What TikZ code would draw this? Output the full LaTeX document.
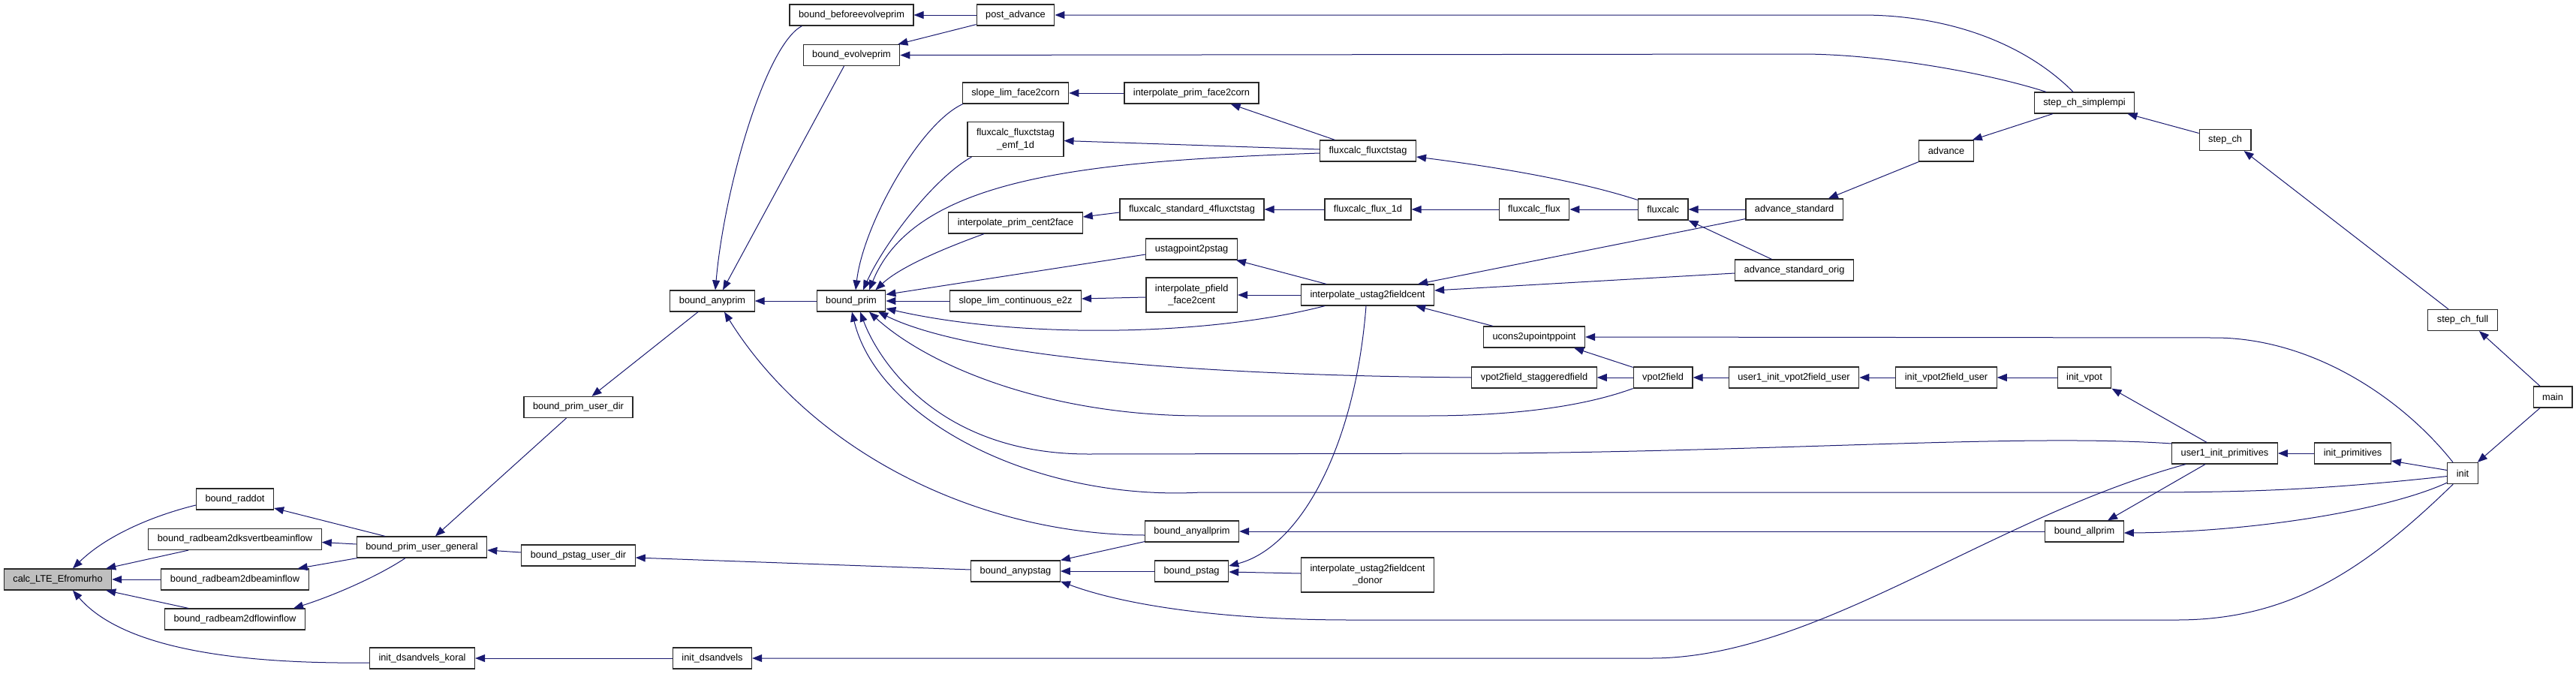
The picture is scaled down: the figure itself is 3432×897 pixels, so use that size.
\documentclass[tikz,border=0pt]{standalone}
\usepackage{fontspec}
\setmainfont{Liberation Sans}
\usetikzlibrary{arrows.meta}
\definecolor{edgecol}{RGB}{25,25,112}
\definecolor{rootfill}{RGB}{191,191,191}
\definecolor{boxline}{RGB}{40,40,40}
\newcommand{\gfont}{\fontsize{12.8}{16.7}\selectfont}
\tikzset{
  box/.style={draw=boxline, line width=1.2pt, fill=white, minimum height=28pt,
    inner xsep=12pt, inner ysep=0pt, font=\gfont, text=black, align=center},
  box2/.style={box, minimum height=46pt},
  e/.style={draw=edgecol, line width=1pt, -{Triangle[length=13pt,width=10pt]}}
}
\begin{document}
\begin{tikzpicture}[x=1pt,y=-1pt]
\useasboundingbox[fill=white] (0,0) rectangle (3432,897);
% nodes
\node[box, fill=rootfill] (calc) at (77,772) {calc\_LTE\_Efromurho};
\node[box] (raddot) at (313,665) {bound\_raddot};
\node[box] (ksvert) at (313,718.5) {bound\_radbeam2dksvertbeaminflow};
\node[box] (beamin) at (313,772) {bound\_radbeam2dbeaminflow};
\node[box] (flowin) at (313,825) {bound\_radbeam2dflowinflow};
\node[box] (bpug) at (562,729) {bound\_prim\_user\_general};
\node[box] (idk) at (562.5,877) {init\_dsandvels\_koral};
\node[box] (bpud) at (770.5,542.5) {bound\_prim\_user\_dir};
\node[box] (bpsud) at (770.5,740) {bound\_pstag\_user\_dir};
\node[box] (ids) at (949,877) {init\_dsandvels};
\node[box] (bbep) at (1134.5,20) {bound\_beforeevolveprim};
\node[box] (bep) at (1134.5,73.5) {bound\_evolveprim};
\node[box] (bap) at (949,401) {bound\_anyprim};
\node[box] (bp) at (1134,401) {bound\_prim};
\node[box] (pa) at (1353,20) {post\_advance};
\node[box] (slf) at (1353,124) {slope\_lim\_face2corn};
\node[box2] (fcemf) at (1353,185.5) {fluxcalc\_fluxctstag\\\_emf\_1d};
\node[box] (ipc) at (1353,297) {interpolate\_prim\_cent2face};
\node[box] (slc) at (1353,401) {slope\_lim\_continuous\_e2z};
\node[box] (bapstag) at (1353,761) {bound\_anypstag};
\node[box] (ipf) at (1587.5,124) {interpolate\_prim\_face2corn};
\node[box] (fs4) at (1588,279) {fluxcalc\_standard\_4fluxctstag};
\node[box] (usp) at (1587.6,332) {ustagpoint2pstag};
\node[box2] (ipfc) at (1587.7,393) {interpolate\_pfield\\\_face2cent};
\node[box] (baap) at (1588,708) {bound\_anyallprim};
\node[box] (bps) at (1587.6,761) {bound\_pstag};
\node[box] (fcs) at (1822.5,201) {fluxcalc\_fluxctstag};
\node[box] (ff1d) at (1822.5,279) {fluxcalc\_flux\_1d};
\node[box] (iu) at (1822,393) {interpolate\_ustag2fieldcent};
\node[box2] (iud) at (1822,766) {interpolate\_ustag2fieldcent\\\_donor};
\node[box] (ff) at (2044,279) {fluxcalc\_flux};
\node[box] (ucons) at (2044,449) {ucons2upointppoint};
\node[box] (vsf) at (2044,503) {vpot2field\_staggeredfield};
\node[box] (fc) at (2215.6,279) {fluxcalc};
\node[box] (vf) at (2215.6,503) {vpot2field};
\node[box] (as) at (2390.6,279) {advance\_standard};
\node[box] (aso) at (2390.5,360) {advance\_standard\_orig};
\node[box] (u1ivu) at (2390,503) {user1\_init\_vpot2field\_user};
\node[box] (adv) at (2593,201) {advance};
\node[box] (ivu) at (2593,503) {init\_vpot2field\_user};
\node[box] (scs) at (2777,137) {step\_ch\_simplempi};
\node[box] (ivp) at (2777,503) {init\_vpot};
\node[box] (ballp) at (2777,708) {bound\_allprim};
\node[box] (sch) at (2964.6,186.5) {step\_ch};
\node[box] (u1ip) at (2964,604) {user1\_init\_primitives};
\node[box] (ip) at (3134.5,604) {init\_primitives};
\node[box] (schf) at (3281,426.5) {step\_ch\_full};
\node[box] (init) at (3281,630.5) {init};
\node[box] (main) at (3401,529) {main};
% edges (caller -> callee, arrow at callee)
\draw[e] ([yshift=-8pt]raddot.west) .. controls (200,688) and (140,715) .. ([xshift=20pt]calc.north);
\draw[e] ([xshift=-62pt]ksvert.south) -- ([xshift=-8pt]calc.north east);
\draw[e] (beamin.west) -- (calc.east);
\draw[e] ([xshift=-62pt]flowin.north) -- ([xshift=-8pt]calc.south east);
\draw[e] ([yshift=-6pt]idk.west) .. controls (300,885) and (160,860) .. ([xshift=20pt]calc.south);
\draw[e] ([xshift=-49pt]bpug.north) -- ([yshift=-12pt]raddot.east);
\draw[e] ([yshift=4pt]bpug.west) -- ([yshift=-4pt]ksvert.east);
\draw[e] ([xshift=1pt]bpug.south west) -- ([xshift=-15pt]beamin.north east);
\draw[e] ([xshift=-22pt]bpug.south) .. controls (500,770) and (440,795) .. ([xshift=-16pt]flowin.north east);
\draw[e] ([xshift=-16pt]bpud.south) -- ([xshift=18pt]bpug.north);
\draw[e] ([yshift=4pt]bpsud.west) -- ([yshift=-4pt]bpug.east);
\draw[e] (ids.west) -- (idk.east);
\draw[e] ([xshift=-19pt]bap.south) -- ([xshift=18pt]bpud.north);
\draw[e] (bp.west) -- (bap.east);
\draw[e] ([xshift=17pt]bbep.south west) .. controls (1020,60) and (965,250) .. ([xshift=4pt]bap.north);
\draw[e] ([xshift=-10pt]bep.south) -- ([xshift=14pt]bap.north);
\draw[e] (pa.west) -- (bbep.east);
\draw[e] ([yshift=2pt]pa.south west) -- ([xshift=-3pt]bep.north east);
\draw[e] ([xshift=-15pt]scs.north) .. controls (2700,60) and (2600,20) .. (2480,20) -- (pa.east);
\draw[e] ([xshift=-51pt]scs.north) .. controls (2640,95) and (2500,72) .. (2400,72) -- (bep.east);
\draw[e] ([yshift=9pt]sch.west) -- ([xshift=-10pt]scs.south east);
\draw[e] ([xshift=-42pt]scs.south) -- ([xshift=-2pt]adv.north east);
\draw[e] (adv.south west) -- ([xshift=-20pt]as.north east);
\draw[e] (as.west) -- (fc.east);
\draw[e] ([xshift=-30pt]aso.north) -- (fc.south east);
\draw[e] ([yshift=2pt]as.south west) -- ([xshift=-22pt]iu.north east);
\draw[e] ([yshift=-4pt]aso.west) -- ([yshift=6pt]iu.east);
\draw[e] ([yshift=-2pt]fc.north west) .. controls (2100,240) and (1990,222) .. ([yshift=-8pt]fcs.east);
\draw[e] (fc.west) -- (ff.east);
\draw[e] (ff.west) -- (ff1d.east);
\draw[e] (ff1d.west) -- (fs4.east);
\draw[e] ([yshift=-4pt]fs4.west) -- ([yshift=8pt]ipc.east);
\draw[e] ([xshift=-42pt]ipc.south) .. controls (1260,330) and (1200,355) .. ([xshift=-14pt]bp.north east);
\draw[e] ([xshift=1pt]slf.south west) .. controls (1225,165) and (1150,300) .. ([xshift=6pt]bp.north);
\draw[e] ([xshift=6pt]fcemf.south west) .. controls (1240,240) and (1175,330) .. ([xshift=16pt]bp.north);
\draw[e] ([yshift=-3pt]fcs.west) .. controls (1450,215) and (1220,235) .. ([xshift=24pt]bp.north);
\draw[e] ([yshift=2pt]fcs.west) -- ([yshift=-2pt]fcemf.east);
\draw[e] ([xshift=-44pt]fcs.north) -- ([xshift=-38pt]ipf.south east);
\draw[e] (ipf.west) -- (slf.east);
\draw[e] ([yshift=-7pt]usp.west) -- ([yshift=-6pt]bp.north east);
\draw[e] ([xshift=-55pt]iu.north) -- ([xshift=-2pt]usp.south east);
\draw[e] (iu.west) -- (ipfc.east);
\draw[e] ([yshift=-3pt]ipfc.west) -- ([yshift=3pt]slc.east);
\draw[e] (slc.west) -- (bp.east);
\draw[e] ([xshift=-57pt]iu.south) .. controls (1600,450) and (1350,450) .. ([yshift=-10pt]bp.east);
\draw[e] (vsf.west) .. controls (1550,500) and (1280,470) .. ([xshift=36pt]bp.south);
\draw[e] (vf.south west) .. controls (2100,545) and (2000,554) .. (1900,554) -- (1600,554) .. controls (1400,554) and (1240,490) .. ([xshift=24pt]bp.south);
\draw[e] ([yshift=13pt]u1ip.west) .. controls (2700,578) and (2400,600) .. (2000,604) -- (1450,605) .. controls (1250,605) and (1170,480) .. ([xshift=12pt]bp.south);
\draw[e] ([yshift=-4pt]init.west) .. controls (3100,652) and (3000,656) .. (2850,656) -- (1600,656) .. controls (1380,668) and (1170,560) .. ([xshift=1pt]bp.south);
\draw[e] ([yshift=-5pt]baap.west) .. controls (1300,712) and (1080,600) .. ([xshift=16pt]bap.south);
\draw[e] ([yshift=1pt]baap.south west) -- (bapstag.north east);
\draw[e] (bps.west) -- (bapstag.east);
\draw[e] ([xshift=8pt]init.south west) .. controls (3150,760) and (3050,826) .. (2900,826) -- (1800,826) .. controls (1600,826) and (1480,800) .. ([yshift=1pt]bapstag.south east);
\draw[e] ([yshift=2pt]bapstag.west) -- ([yshift=-3pt]bpsud.east);
\draw[e] ([xshift=-2pt]iu.south) .. controls (1805,600) and (1730,730) .. ([yshift=7pt]bps.east);
\draw[e] ([yshift=2pt]iud.west) -- ([yshift=-1pt]bps.east);
\draw[e] ([xshift=-55pt]ucons.north) -- ([xshift=-25pt]iu.south east);
\draw[e] ([yshift=-1pt]vf.north west) -- ([xshift=-15pt]ucons.south east);
\draw[e] (vf.west) -- (vsf.east);
\draw[e] (u1ivu.west) -- (vf.east);
\draw[e] (ivu.west) -- (u1ivu.east);
\draw[e] (ivp.west) -- (ivu.east);
\draw[e] ([xshift=-24pt]u1ip.north) -- (ivp.south east);
\draw[e] ([xshift=-13pt]init.north) .. controls (3200,530) and (3080,450) .. (2950,450) -- (ucons.east);
\draw[e] (ip.west) -- (u1ip.east);
\draw[e] ([yshift=4pt]init.west) -- ([yshift=-10pt]ip.east);
\draw[e] ([xshift=-17pt]main.south) -- ([xshift=-1pt]init.north east);
\draw[e] ([xshift=-17pt]main.north) -- ([xshift=22pt]schf.south);
\draw[e] ([xshift=-19pt]schf.north) -- ([xshift=-10pt]sch.south east);
\draw[e] (ballp.west) -- (baap.east);
\draw[e] ([yshift=2pt]init.south west) .. controls (3180,680) and (3000,709) .. ([yshift=-2pt]ballp.east);
\draw[e] ([xshift=-26pt]u1ip.south) -- ([xshift=31pt]ballp.north);
\draw[e] ([xshift=-52pt]u1ip.south) .. controls (2650,690) and (2420,877) .. (2200,877) -- (ids.east);
\end{tikzpicture}
\end{document}
